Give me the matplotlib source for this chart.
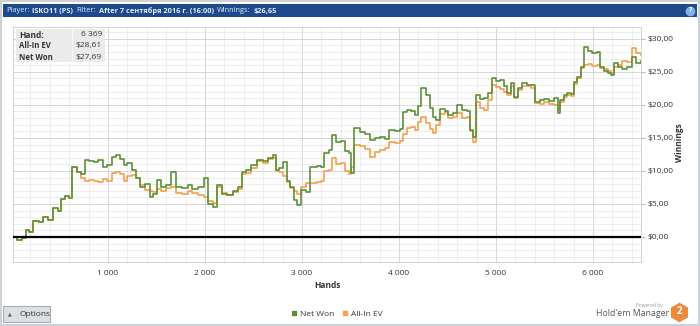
import numpy as np
import matplotlib
matplotlib.use("Agg")
import matplotlib.pyplot as plt
from matplotlib.patches import Rectangle
from matplotlib.lines import Line2D
from matplotlib.ticker import MultipleLocator, FuncFormatter

plt.rcParams['font.family'] = ['Open Sans', 'DejaVu Sans']

W, H = 700, 326

# ---------------- data ----------------
hands = [20, 60, 110, 150, 190, 230, 290, 330, 380, 430, 480, 510, 560, 600, 630, 680,
         720, 760, 800, 850, 900, 950, 990, 1040, 1080, 1120, 1160, 1200, 1250, 1290,
         1330, 1380, 1430, 1460, 1500, 1550, 1600, 1650, 1700, 1760, 1820, 1870, 1930,
         1990, 2030, 2080, 2120, 2170, 2230, 2290, 2340, 2380, 2420, 2470, 2540, 2600,
         2650, 2700, 2730, 2760, 2800, 2840, 2880, 2920, 2950, 2990, 3040, 3080, 3150,
         3200, 3230, 3280, 3310, 3350, 3400, 3440, 3480, 3510, 3540, 3600, 3650, 3700,
         3750, 3800, 3860, 3900, 3960, 4010, 4040, 4080, 4120, 4160, 4200, 4230, 4280,
         4320, 4350, 4380, 4420, 4470, 4510, 4560, 4600, 4650, 4700, 4730, 4760, 4790,
         4840, 4880, 4920, 4960, 5000, 5040, 5080, 5110, 5150, 5190, 5230, 5270, 5320,
         5360, 5400, 5450, 5500, 5550, 5600, 5640, 5660, 5700, 5730, 5770, 5800, 5840,
         5880, 5910, 5950, 5990, 6040, 6070, 6110, 6150, 6190, 6220, 6260, 6300, 6350,
         6400, 6440, 6495]
net_won = [0.0, -0.4, -0.2, 1.0, 0.8, 2.4, 2.2, 3.0, 2.6, 4.4, 4.0, 5.8, 6.2, 5.9, 10.6, 9.8,
           9.6, 11.7, 11.5, 11.3, 11.6, 10.6, 10.9, 12.1, 12.4, 11.8, 10.9, 11.2, 10.1, 9.0,
           7.6, 8.0, 6.0, 6.5, 8.6, 7.6, 7.8, 9.8, 7.6, 7.4, 7.9, 7.2, 7.5,
           8.9, 5.0, 4.6, 7.9, 6.5, 6.4, 6.9, 7.6, 9.8, 10.1, 10.9, 11.7, 11.5,
           12.0, 12.4, 10.1, 10.4, 11.4, 8.5, 7.6, 5.6, 4.8, 7.1, 6.8, 10.6, 10.8,
           10.6, 12.7, 13.2, 15.5, 14.4, 14.6, 13.0, 12.7, 9.7, 16.5, 15.9, 15.6, 14.7,
           15.0, 15.2, 14.9, 16.2, 16.0, 16.4, 18.9, 19.2, 19.0, 18.5, 19.8, 22.6, 21.5,
           19.6, 18.2, 17.7, 19.4, 19.1, 18.5, 18.8, 20.0, 19.3, 19.0, 16.2, 15.2, 21.5,
           20.9, 21.1, 21.8, 24.1, 23.6, 23.8, 22.9, 21.8, 23.3, 21.2, 22.6, 23.3, 23.0,
           23.0, 20.5, 20.8, 20.9, 20.6, 21.0, 18.8, 20.8, 21.5, 21.8, 21.6, 23.5, 24.2,
           25.8, 28.8, 28.2, 27.8, 28.0, 25.8, 25.2, 24.9, 24.5, 26.3, 25.8, 25.5, 25.8,
           27.3, 26.3, 26.6]
allin_ev = [0.0, -0.4, -0.2, 1.0, 0.8, 2.4, 2.2, 3.0, 2.6, 4.4, 4.0, 5.8, 6.2, 5.9, 10.6, 9.8,
            9.0, 8.4, 8.6, 8.4, 8.3, 8.7, 8.5, 9.7, 9.9, 9.5, 8.4, 9.3, 9.4, 9.0,
            7.8, 7.1, 7.0, 6.8, 7.3, 7.0, 7.4, 7.6, 6.6, 6.5, 6.9, 6.6, 6.3,
            6.0, 5.4, 5.2, 7.5, 6.6, 6.3, 6.8, 7.3, 9.6, 9.7, 10.5, 11.5, 11.2,
            11.8, 11.9, 10.0, 9.8, 9.3, 8.3, 7.4, 6.9, 6.5, 7.6, 8.1, 8.1, 8.3,
            8.4, 10.0, 10.2, 11.9, 11.0, 11.2, 10.0, 9.6, 10.6, 14.0, 13.8, 13.3, 12.1,
            12.8, 13.1, 13.4, 14.4, 14.2, 14.6, 15.6, 16.5, 16.7, 16.2, 17.4, 18.2, 17.3,
            16.4, 15.8, 17.0, 18.6, 18.9, 18.0, 18.2, 18.7, 18.0, 18.1, 16.0, 14.4, 20.5,
            19.6, 19.3, 20.7, 23.0, 22.7, 22.4, 21.9, 21.5, 22.8, 21.0, 22.3, 22.9, 22.8,
            22.6, 20.3, 20.2, 20.4, 20.1, 20.0, 19.2, 20.5, 21.2, 21.5, 21.4, 23.1, 24.0,
            25.6, 26.0, 26.2, 25.9, 26.0, 25.6, 25.4, 25.1, 24.8, 25.8, 26.1, 26.6, 26.5,
            28.6, 27.8, 27.6]

stats_labels = ["Hand:", "All-In EV", "Net Won"]
stats_values = ["6 369", "$28,61", "$27,69"]

GREEN = "#5b9137"
ORANGE = "#f5a04e"


def fx(x):
    return x / W


def fy(y):
    return 1 - y / H


fig = plt.figure(figsize=(7.0, 3.26), dpi=100, facecolor="#cdd2d9")

# window panel + title bar (behind the axes)
fig.add_artist(Rectangle((fx(2), fy(324)), fx(696), 322 / H, transform=fig.transFigure,
                         facecolor="white", edgecolor="none", zorder=-10))
fig.add_artist(Rectangle((fx(3), fy(17)), fx(694), 13 / H, transform=fig.transFigure,
                         facecolor="#1d4a8c", edgecolor="none", zorder=-9))

# title pieces laid out one after another
title_parts = [("Player:", "normal"), ("ISKO11 (PS)", "bold"), ("Filter:", "normal"),
               ("After 7 сентября 2016 г. (16:00)", "bold"), ("Winnings:", "normal"),
               ("$26,65", "bold")]
renderer = fig.canvas.get_renderer()
xpos = 6
for s, w in title_parts:
    t = fig.text(fx(xpos), fy(11), s, color="#e6ecf5", fontsize=5.3, fontweight=w,
                 ha="left", va="center")
    xpos += t.get_window_extent(renderer).width + 3
fig.add_artist(Line2D([fx(690)], [fy(11)], marker="o", markersize=6, color="#7fb2e6",
                      transform=fig.transFigure))
fig.text(fx(690), fy(11), "?", color="white", fontsize=5, fontweight="bold",
         ha="center", va="center")

# ---------------- main chart ----------------
ax = fig.add_axes([fx(13), fy(262), fx(641) - fx(13), (262 - 27) / H])
ax.plot(hands, allin_ev, color=ORANGE, lw=1.2, drawstyle="steps-post", zorder=3)
ax.plot(hands, net_won, color=GREEN, lw=1.2, drawstyle="steps-post", zorder=4)
ax.axhline(0, color="black", lw=1.6, zorder=5)

ax.set_xlim(20, 6495)
ax.set_ylim(-3.8, 31.8)
ax.xaxis.set_major_locator(MultipleLocator(1000))
ax.xaxis.set_minor_locator(MultipleLocator(200))
ax.yaxis.set_major_locator(MultipleLocator(5))
ax.yaxis.set_minor_locator(MultipleLocator(1))
ax.xaxis.set_major_formatter(FuncFormatter(lambda v, p: f"{int(v) // 1000} 000"))
ax.yaxis.set_major_formatter(FuncFormatter(lambda v, p: f"${int(v)},00"))
ax.yaxis.tick_right()
ax.yaxis.set_label_position("right")
ax.tick_params(axis="x", which="both", length=0, labelsize=6, labelcolor="#333333", pad=6)
ax.tick_params(axis="y", which="major", length=3, color="#bbbbbb", labelsize=6,
               labelcolor="#333333", pad=2)
ax.tick_params(axis="y", which="minor", length=0)
ax.grid(which="major", color="#cfcfcf", lw=0.6)
ax.grid(which="minor", color="#e6e6e6", lw=0.5)
ax.set_axisbelow(True)
for sp in ax.spines.values():
    sp.set_color("#cccccc")
    sp.set_linewidth(0.6)

fig.text(fx(327), fy(285), "Hands", fontsize=6, fontweight="bold", color="#333333",
         ha="center", va="center")
fig.text(fx(680), fy(143), "Winnings", fontsize=6, fontweight="bold", color="#333333",
         ha="center", va="center", rotation=90)

# stats box
fig.add_artist(Rectangle((fx(16), fy(62)), fx(89), 33 / H, transform=fig.transFigure,
                         facecolor="#ebebeb", edgecolor="none", zorder=6))
fig.add_artist(Line2D([fx(72), fx(72)], [fy(62), fy(29)], color="#f7f7f7", lw=0.8,
                      transform=fig.transFigure, zorder=7))
for i, (lab, val) in enumerate(zip(stats_labels, stats_values)):
    yy = fy(35 + i * 11)
    fig.text(fx(19), yy, lab, fontsize=5.6 if i else 6, fontweight="bold",
             color="#333333", ha="left", va="center", zorder=8)
    fig.text(fx(102), yy, val, fontsize=6, color="#333333", ha="right", va="center",
             zorder=8)

# legend
handles = [Line2D([], [], marker="s", linestyle="", color=GREEN, markersize=3.5),
           Line2D([], [], marker="s", linestyle="", color=ORANGE, markersize=3.5)]
fig.legend(handles, ["Net Won", "All-In EV"], loc="center",
           bbox_to_anchor=(fx(337), fy(314)), ncol=2, frameon=False, fontsize=6,
           handlelength=0.6, handletextpad=0.4, columnspacing=1.0, labelcolor="#333333")

# options button
fig.add_artist(Rectangle((fx(3), fy(322)), fx(47), 16 / H, transform=fig.transFigure,
                         facecolor="#dcdfe4", edgecolor="#a9adb3", lw=0.8))
fig.text(fx(10), fy(314), "▲", fontsize=3.5, color="#555555", ha="center", va="center",
         family=["DejaVu Sans"])
fig.text(fx(20), fy(314), "Options", fontsize=6, color="#333333", ha="left", va="center")

# logo
fig.text(fx(663), fy(305), "Powered by", fontsize=3.5, color="#999999", ha="right",
         va="center")
fig.text(fx(669), fy(314), "Hold'em Manager", fontsize=6.3, color="#555555", ha="right",
         va="center")
fig.add_artist(Line2D([fx(679)], [fy(312)], marker="h", markersize=13, color="#ec8a3c",
                      transform=fig.transFigure))
fig.text(fx(679), fy(312), "2", fontsize=7, fontweight="bold", color="white",
         ha="center", va="center")

fig.savefig("out.png", dpi=100, facecolor=fig.get_facecolor())
